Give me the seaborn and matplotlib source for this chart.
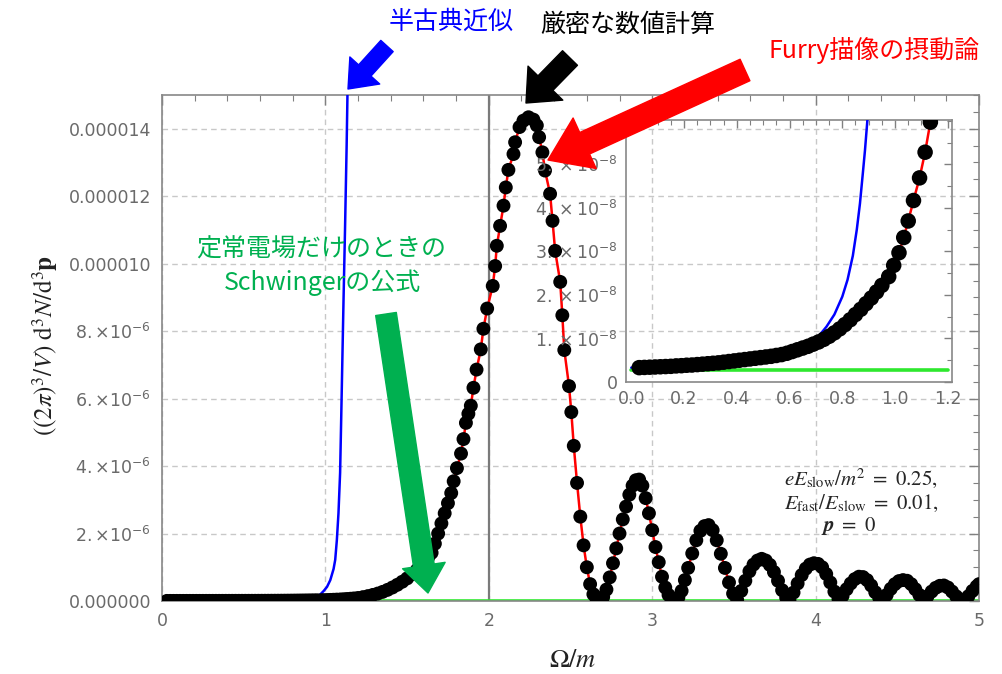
import matplotlib
matplotlib.use('Agg')
import matplotlib.pyplot as plt
import seaborn as sns
from matplotlib.patches import FancyArrowPatch
from matplotlib.ticker import MultipleLocator

# exact numerical result, y in units of 1e-6
exact_x = [0.03, 0.05, 0.07, 0.09, 0.11, 0.13, 0.15, 0.17, 0.19, 0.21,
           0.23, 0.25, 0.27, 0.29, 0.31, 0.33, 0.35, 0.37, 0.39, 0.41,
           0.43, 0.45, 0.47, 0.49, 0.51, 0.53, 0.55, 0.57, 0.59, 0.61,
           0.63, 0.65, 0.67, 0.69, 0.71, 0.73, 0.75, 0.77, 0.79, 0.81,
           0.83, 0.85, 0.87, 0.89, 0.91, 0.93, 0.95, 0.976, 0.995, 1.015,
           1.033, 1.05, 1.07, 1.093, 1.114, 1.134, 1.155, 1.175, 1.2, 1.23,
           1.26, 1.29, 1.32, 1.35, 1.38, 1.41, 1.44, 1.47, 1.50, 1.53,
           1.56, 1.59, 1.61, 1.63, 1.65, 1.67, 1.69, 1.71, 1.73, 1.75,
           1.77, 1.785, 1.805, 1.83, 1.845, 1.86, 1.875, 1.89, 1.906, 1.925,
           1.951, 1.967, 1.99, 2.024, 2.039, 2.049, 2.069, 2.09, 2.104, 2.12,
           2.151, 2.161, 2.188, 2.212, 2.243, 2.273, 2.294, 2.308, 2.328, 2.344,
           2.375, 2.39, 2.406, 2.437, 2.45, 2.462, 2.491, 2.505, 2.52, 2.54,
           2.56, 2.58, 2.60, 2.62, 2.64, 2.66, 2.68, 2.70, 2.72, 2.74,
           2.76, 2.78, 2.80, 2.82, 2.84, 2.86, 2.88, 2.90, 2.92, 2.94,
           2.96, 2.98, 3.0, 3.02, 3.04, 3.06, 3.08, 3.10, 3.12, 3.14,
           3.16, 3.18, 3.20, 3.22, 3.245, 3.27, 3.295, 3.32, 3.345, 3.37,
           3.395, 3.42, 3.445, 3.47, 3.495, 3.52, 3.545, 3.57, 3.595, 3.62,
           3.645, 3.67, 3.695, 3.72, 3.745, 3.77, 3.795, 3.82, 3.84, 3.865,
           3.89, 3.915, 3.94, 3.965, 3.99, 4.015, 4.04, 4.065, 4.09, 4.115,
           4.14, 4.165, 4.19, 4.215, 4.24, 4.265, 4.29, 4.315, 4.34, 4.365,
           4.39, 4.41, 4.435, 4.46, 4.485, 4.51, 4.535, 4.56, 4.585, 4.61,
           4.635, 4.66, 4.685, 4.71, 4.735, 4.76, 4.785, 4.81, 4.835, 4.86,
           4.885, 4.91, 4.935, 4.96, 4.985, 5.0]
exact_y = [0.0033, 0.00335, 0.0034, 0.00345, 0.0035, 0.00355, 0.0036, 0.0037, 0.00375, 0.00385,
           0.0039, 0.0040, 0.0041, 0.0042, 0.0043, 0.0044, 0.00455, 0.0047, 0.00485, 0.0050,
           0.00515, 0.0053, 0.00545, 0.0056, 0.00575, 0.0059, 0.0061, 0.0063, 0.0066, 0.0070,
           0.0074, 0.0078, 0.0082, 0.0087, 0.0092, 0.0098, 0.0105, 0.0113, 0.0122, 0.0132,
           0.0143, 0.0155, 0.0167, 0.0180, 0.0193, 0.0207, 0.0222, 0.0242, 0.0268, 0.0297,
           0.0332, 0.037, 0.0417, 0.0469, 0.0528, 0.0597, 0.0675, 0.076, 0.09, 0.115,
           0.145, 0.18, 0.22, 0.27, 0.33, 0.40, 0.48, 0.57, 0.67, 0.79,
           0.92, 1.07, 1.18, 1.30, 1.43, 1.70, 2.0, 2.3, 2.6, 2.9,
           3.2, 3.55, 3.94, 4.37, 4.8, 5.28, 5.55, 5.79, 6.32, 6.86,
           7.46, 8.07, 8.67, 9.34, 9.93, 10.53, 11.12, 11.72, 12.26, 12.78,
           13.25, 13.6, 14.05, 14.24, 14.34, 14.27, 14.10, 13.75, 13.30, 12.76,
           12.07, 11.27, 10.38, 9.46, 8.47, 7.44, 6.37, 5.6, 4.6, 3.5,
           2.5, 1.65, 1.0, 0.5, 0.2, 0.05, 0.01, 0.12, 0.34, 0.7,
           1.12, 1.56, 2.0, 2.42, 2.8, 3.15, 3.42, 3.58, 3.6, 3.42,
           3.05, 2.6, 2.1, 1.6, 1.15, 0.72, 0.4, 0.18, 0.06, 0.01,
           0.1, 0.3, 0.62, 0.98, 1.41, 1.8, 2.08, 2.22, 2.25, 2.1,
           1.8, 1.4, 0.98, 0.55, 0.22, 0.03, 0.3, 0.6, 0.88, 1.08,
           1.2, 1.25, 1.2, 1.07, 0.86, 0.6, 0.32, 0.1, 0.02, 0.25,
           0.52, 0.77, 0.96, 1.08, 1.12, 1.1, 1.0, 0.8, 0.55, 0.28,
           0.06, 0.15, 0.35, 0.52, 0.65, 0.72, 0.71, 0.62, 0.46, 0.26,
           0.08, 0.01, 0.18, 0.36, 0.5, 0.59, 0.62, 0.6, 0.5, 0.35,
           0.18, 0.04, 0.14, 0.28, 0.39, 0.45, 0.46, 0.4, 0.28, 0.14,
           0.04, 0.01, 0.14, 0.3, 0.43, 0.5]

# semiclassical approximation (blue), units of 1e-6
semi_x = [0.0, 0.1, 0.2, 0.3, 0.4, 0.5, 0.6, 0.65, 0.68, 0.71,
          0.74, 0.77, 0.80, 0.82, 0.84, 0.855, 0.867, 0.878, 0.886, 0.895,
          0.91, 0.93, 0.95, 0.97, 0.99, 1.01, 1.03, 1.05, 1.06, 1.07,
          1.08, 1.09, 1.097, 1.105, 1.111, 1.12, 1.13, 1.14]
semi_y = [0.0033, 0.0035, 0.0038, 0.0042, 0.0049, 0.0057, 0.0068, 0.0078, 0.0089, 0.0105,
          0.0127, 0.0155, 0.0196, 0.0235, 0.029, 0.035, 0.041, 0.048, 0.0532, 0.06,
          0.075, 0.10, 0.14, 0.2, 0.3, 0.42, 0.62, 0.95, 1.22, 1.8,
          2.6, 3.8, 5.48, 7.46, 8.94, 11.0, 13.5, 16.5]

# Schwinger formula, constant field only (green), units of 1e-6
schw_x = [0.0, 5.0]
schw_y = [0.0028, 0.0028]
schw_inset_x = [0.0, 1.2]

main_yticks = [0, 2, 4, 6, 8, 10, 12, 14]
main_ylabels = ['0.000000', r'$2.{\times}10^{-6}$', r'$4.{\times}10^{-6}$', r'$6.{\times}10^{-6}$',
                r'$8.{\times}10^{-6}$', '0.000010', '0.000012', '0.000014']
inset_xticks = [0.0, 0.2, 0.4, 0.6, 0.8, 1.0, 1.2]
inset_yticks = [0, 1, 2, 3, 4, 5]
inset_ylabels = ['0'] + [r'$%d.\times10^{-8}$' % k for k in range(1, 6)]

sns.set_theme(style='white')
plt.rcParams['font.family'] = ['DejaVu Sans']
plt.rcParams['mathtext.fontset'] = 'dejavusans'
jp = ['Noto Sans CJK JP', 'DejaVu Sans']

W, H = 1002, 674
fig = plt.figure(figsize=(W / 100, H / 100), dpi=100)


def fx(x, y):
    return (x / W, 1 - y / H)


ax = fig.add_axes([162 / W, 1 - 601 / H, (979 - 162) / W, (601 - 95) / H])
ax.set_xlim(0, 5)
ax.set_ylim(0, 1.5e-5)
ax.grid(True, which='major', ls=(0, (4, 3)), color='#c8c8c8', lw=1)
ax.set_axisbelow(True)
ax.axvline(2, color='#7a7a7a', lw=1.6, zorder=1)

ey = [v * 1e-6 for v in exact_y]
sy = [v * 1e-6 for v in semi_y]
gy = [v * 1e-6 for v in schw_y]

sns.lineplot(x=schw_x, y=gy, ax=ax, color='#2ee82e', lw=2.6, estimator=None, zorder=2)
sns.lineplot(x=semi_x, y=sy, ax=ax, color='#0000ff', lw=1.8, estimator=None, zorder=3)
sns.lineplot(x=exact_x, y=ey, ax=ax, color='#ff0000', lw=1.8, estimator=None, zorder=3)
sns.scatterplot(x=exact_x, y=ey, ax=ax, color='black', s=100, edgecolor='none', zorder=4)

ax.set_xticks(range(6))
ax.set_xticklabels([str(i) for i in range(6)])
ax.xaxis.set_minor_locator(MultipleLocator(0.2))
ax.set_yticks([v * 1e-6 for v in main_yticks])
ax.set_yticklabels(main_ylabels)
ax.yaxis.set_minor_locator(MultipleLocator(0.5e-6))
ax.tick_params(which='both', direction='in', top=True, right=True, color='#808080',
               labelcolor='#6a6a6a', labelsize=12.5)
ax.tick_params(which='major', length=7, width=1)
ax.tick_params(which='minor', length=4, width=0.8)
ax.tick_params(axis='x', pad=8)
ax.tick_params(axis='y', pad=8)
for s in ax.spines.values():
    s.set_color('#888888')
    s.set_linewidth(1.2)
ax.set_xlabel('')
ax.set_ylabel('')

# inset
axi = fig.add_axes([626 / W, 1 - 382 / H, (952 - 626) / W, (382 - 120) / H])
axi.patch.set_alpha(0)
axi.set_xlim(-0.02, 1.216)
axi.set_ylim(0, 6.02e-8)
iy = [v * 1e-6 for v in exact_y]
sns.lineplot(x=schw_inset_x, y=[schw_y[0] * 1e-6] * 2, ax=axi, color='#2ee82e', lw=2.6,
             estimator=None, zorder=2)
sns.lineplot(x=semi_x, y=sy, ax=axi, color='#0000ff', lw=1.8, estimator=None, zorder=3)
sns.lineplot(x=exact_x, y=iy, ax=axi, color='#ff0000', lw=1.8, estimator=None, zorder=3)
sns.scatterplot(x=exact_x, y=iy, ax=axi, color='black', s=125, edgecolor='none', zorder=4)
axi.set_xticks(inset_xticks)
axi.set_xticklabels(['%.1f' % v for v in inset_xticks])
axi.xaxis.set_minor_locator(MultipleLocator(0.05))
axi.set_yticks([v * 1e-8 for v in inset_yticks])
axi.set_yticklabels(inset_ylabels)
axi.yaxis.set_minor_locator(MultipleLocator(0.5e-8))
axi.tick_params(which='both', direction='in', top=True, right=True, color='#808080',
                labelcolor='#6a6a6a', labelsize=12.5)
axi.tick_params(which='major', length=6, width=1)
axi.tick_params(which='minor', length=3.5, width=0.8)
axi.tick_params(axis='y', pad=6)
axi.tick_params(axis='x', pad=6)
for s in axi.spines.values():
    s.set_color('#888888')
    s.set_linewidth(1.2)
axi.set_xlabel('')
axi.set_ylabel('')

# axis titles
fig.text(*fx(45, 345), r'$((2\pi)^3/V)\ \mathrm{d}^3N/\mathrm{d}^3\mathbf{p}$', rotation=90,
         ha='center', va='center', fontsize=18, math_fontfamily='stix', color='#222222')
fig.text(*fx(573, 660), r'$\Omega/m$', ha='center', va='center', fontsize=19,
         math_fontfamily='stix', color='#222222')

# parameters
fig.text(*fx(861, 478), r'$eE_{\mathrm{slow}}/m^2\ =\ 0.25,$', ha='center', va='center',
         fontsize=15, math_fontfamily='stix')
fig.text(*fx(861, 503), r'$E_{\mathrm{fast}}/E_{\mathrm{slow}}\ =\ 0.01,$', ha='center',
         va='center', fontsize=15, math_fontfamily='stix')
fig.text(*fx(849, 526), r'$\boldsymbol{p}\ =\ 0$', ha='center', va='center', fontsize=15,
         math_fontfamily='stix')


def arrow(tail, head, color, tw, hw, hl):
    style = 'simple,head_width=%g,head_length=%g,tail_width=%g' % (hw, hl, tw)
    p = FancyArrowPatch(fx(*tail), fx(*head), transform=fig.transFigure, arrowstyle=style,
                        color=color, mutation_scale=1, shrinkA=0, shrinkB=0, zorder=10)
    fig.add_artist(p)


arrow((387, 46), (348, 89), '#0000ff', 12, 29, 18)
arrow((570, 58), (526, 103), 'black', 15, 35, 20)
arrow((745, 70), (548, 160), '#ff0000', 17, 40, 29)
arrow((386, 314), (428, 593), '#00b050', 15, 31, 20)

fig.text(*fx(451, 22), '半古典近似', ha='center', va='center', fontsize=18,
         family=jp, color='#0000ff')
fig.text(*fx(628, 25), '厳密な数値計算', ha='center', va='center', fontsize=18,
         family=jp, color='black')
fig.text(*fx(874, 50), 'Furry描像の摂動論', ha='center', va='center', fontsize=18,
         family=jp, color='#ff0000')
fig.text(*fx(321, 250), '定常電場だけのときの', ha='center', va='center', fontsize=18,
         family=jp, color='#00b050')
fig.text(*fx(322, 283), 'Schwingerの公式', ha='center', va='center', fontsize=18,
         family=jp, color='#00b050')

fig.savefig('out.png', dpi=100)
